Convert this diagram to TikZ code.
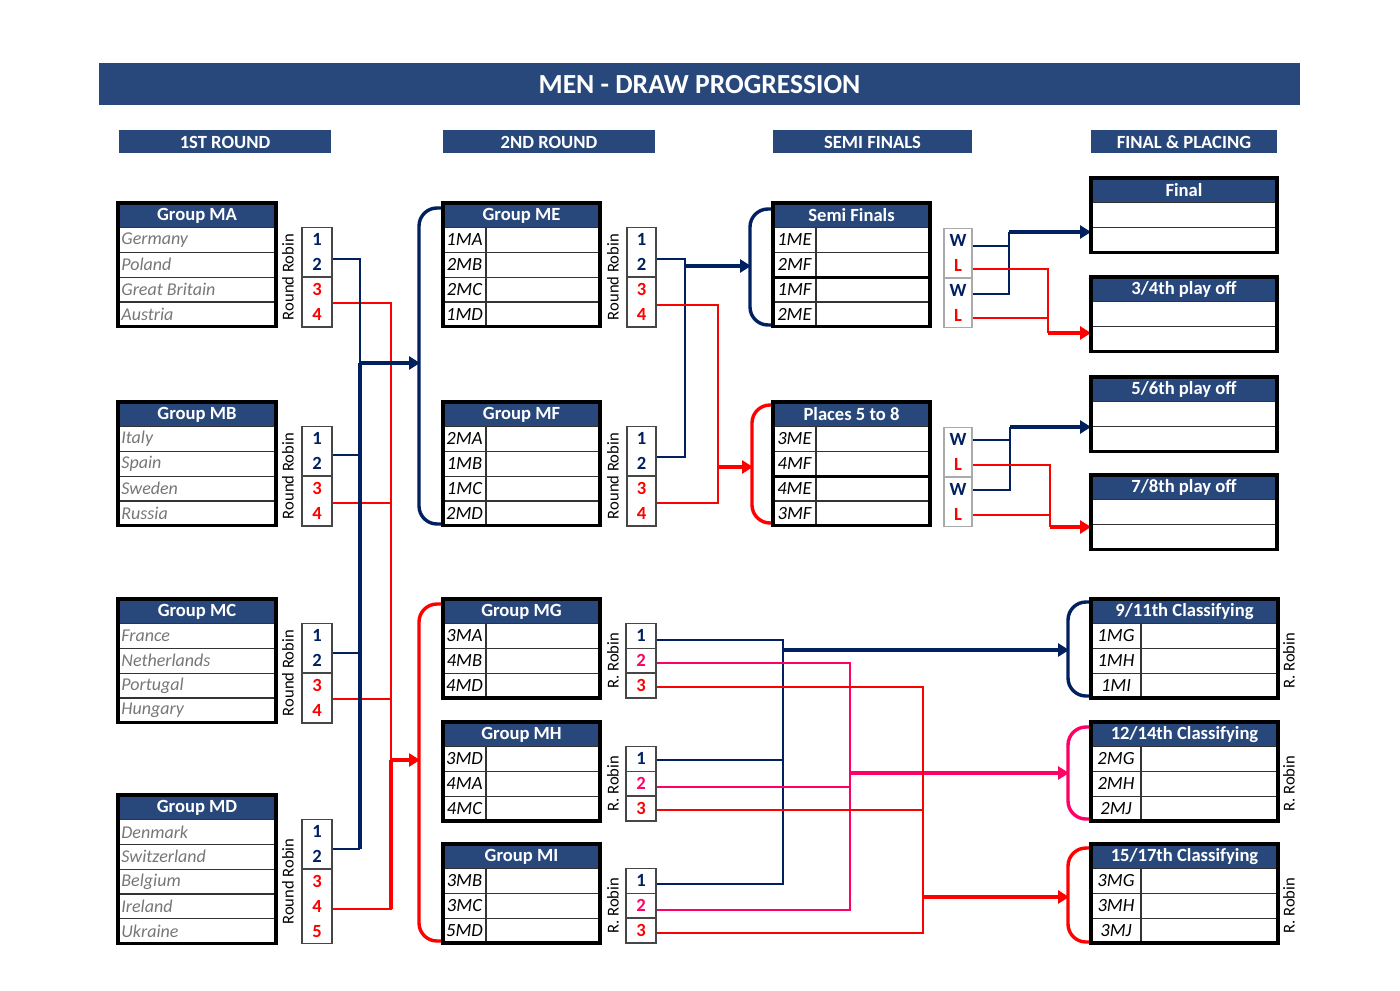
\documentclass[tikz,border=0pt]{standalone}
\usepackage{fontspec}
\setmainfont{Carlito}
\usetikzlibrary{arrows.meta}
\definecolor{hdrblue}{RGB}{40,72,124}
\definecolor{navy}{RGB}{0,32,96}
\definecolor{myred}{RGB}{255,0,0}
\definecolor{mypink}{RGB}{255,0,102}
\definecolor{cgray}{RGB}{118,118,118}
\definecolor{rrgray}{RGB}{70,70,70}
\definecolor{wlgray}{RGB}{170,170,170}
\tikzset{
  hdrtxt/.style={text=white,font=\bfseries\fontsize{9.3}{11}\selectfont,inner sep=0pt},
  titletxt/.style={text=white,font=\bfseries\fontsize{13.8}{16}\selectfont,inner sep=0pt},
  cntry/.style={text=cgray,font=\itshape\fontsize{9}{11}\selectfont,anchor=west,inner sep=0pt},
  lbl/.style={text=black,font=\itshape\fontsize{9.3}{11}\selectfont,inner sep=0pt},
  rrtxt/.style={font=\fontsize{8.3}{10}\selectfont,rotate=90,inner sep=0pt},
  numb/.style={font=\bfseries\fontsize{9.3}{11}\selectfont,inner sep=0pt},
  outerbox/.style={draw=black,line width=1.6pt},
  rowline/.style={draw=black!80,line width=0.6pt},
  rrline/.style={draw=rrgray,line width=0.8pt},
  wlline/.style={draw=wlgray,line width=0.7pt},
  thinc/.style={line width=1.4pt},
  midc/.style={line width=1.8pt},
  thickc/.style={line width=2.4pt},
  brk/.style={line width=1.7pt,rounded corners=9pt},
  tip/.style={-{Triangle[length=5.5pt,width=6.5pt]}},
}
% group table, first round (country names)
\newcommand\grpone[4]{%
  \fill[hdrblue] (118,#2) rectangle (276,{#2+24.5});
  \node[hdrtxt] (#1h) at (197,{#2+12.5}) {#3};
  \foreach \ent [count=\i] in {#4} {
    \draw[rowline] (118,{#2+24.5+(\i-1)*24.8}) rectangle (276,{#2+24.5+\i*24.8});
    \node[cntry] (#1r\i) at (121,{#2+24.5+(\i-0.5)*24.8}) {\ent};
    \xdef\nrows{\i}
  }
  \draw[outerbox] (118,#2) rectangle (276,{#2+24.5+\nrows*24.8});
}
% group table with label column
\newcommand\grplab[7]{%
  \fill[hdrblue] (#2,#3) rectangle ({#2+#4},{#3+24.5});
  \node[hdrtxt] (#1h) at ({#2+#4/2},{#3+12.5}) {#6};
  \foreach \ent [count=\i] in {#7} {
    \draw[rowline] (#2,{#3+24.5+(\i-1)*24.8}) rectangle ({#2+#4},{#3+24.5+\i*24.8});
    \node[lbl] (#1r\i) at ({#2+#5/2},{#3+24.5+(\i-0.5)*24.8}) {\ent};
    \xdef\nrows{\i}
  }
  \draw[rowline] ({#2+#5},{#3+24.5}) -- ({#2+#5},{#3+24.5+\nrows*24.8});
  \draw[outerbox] (#2,#3) rectangle ({#2+#4},{#3+24.5+\nrows*24.8});
}
% empty two-row table
\newcommand\grpempty[3]{%
  \fill[hdrblue] (1091,#2) rectangle (1277,{#2+24.5});
  \node[hdrtxt] (#1h) at (1184,{#2+12.5}) {#3};
  \draw[rowline] (1091,{#2+24.5}) rectangle (1277,{#2+24.5+24.8});
  \draw[rowline] (1091,{#2+24.5+24.8}) rectangle (1277,{#2+24.5+49.6});
  \draw[outerbox] (1091,#2) rectangle (1277,{#2+24.5+49.6});
}
% numbered box: id, left, top, width, entries, separators, line style
\newcommand\rrb[7]{%
  \foreach \s in {#6} {\draw[#7] (#2,{#3+\s*24.8}) -- ({#2+#4},{#3+\s*24.8});}
  \foreach \nm/\cl [count=\i] in {#5} {
    \node[numb,text=\cl] (#1n\i) at ({#2+#4/2},{#3+(\i-0.5)*24.8}) {\nm};
    \xdef\nrows{\i}
  }
  \draw[#7] (#2,#3) rectangle ({#2+#4},{#3+\nrows*24.8});
}
\begin{document}
\begin{tikzpicture}[x=0.5pt,y=-0.5pt]
\useasboundingbox (0,0) rectangle (1400,990);

% ---------- title and column headers ----------
\fill[hdrblue] (99,63) rectangle (1300,105);
\node[titletxt] (title) at (699.5,84.5) {MEN - DRAW PROGRESSION};
\fill[hdrblue] (119,130) rectangle (331,153);
\node[hdrtxt] (c1) at (225,142) {1ST ROUND};
\fill[hdrblue] (443,130) rectangle (655,153);
\node[hdrtxt] (c2) at (549,142) {2ND ROUND};
\fill[hdrblue] (773,130) rectangle (972,153);
\node[hdrtxt] (c3) at (872.5,142) {SEMI FINALS};
\fill[hdrblue] (1091,130) rectangle (1277,153);
\node[hdrtxt] (c4) at (1184,142) {FINAL \& PLACING};

% ---------- connector coordinates ----------
\coordinate (maB) at (332,259); \coordinate (maR) at (332,303);
\coordinate (mbB) at (332,455); \coordinate (mbR) at (332,503);
\coordinate (mcB) at (332,653); \coordinate (mcR) at (332,699);
\coordinate (mdB) at (332,849); \coordinate (mdR) at (332,909);
\coordinate (tB1) at (360,259); \coordinate (tB2) at (360,363); \coordinate (tB3) at (360,849);
\coordinate (tR1) at (391,303); \coordinate (tR2) at (391,760); \coordinate (tR3) at (391,909);
\coordinate (brA) at (420,363); \coordinate (brB) at (420,760);

\coordinate (me2) at (656,259); \coordinate (me4) at (656,305);
\coordinate (mf2) at (656,457); \coordinate (mf4) at (656,503);
\coordinate (jE1) at (685,259); \coordinate (jE2) at (685,457);
\coordinate (jE3) at (685,266); \coordinate (sfBr) at (751,266);
\coordinate (jF1) at (718,305); \coordinate (jF2) at (718,503);
\coordinate (jF3) at (718,467); \coordinate (plBr) at (753,467);

\coordinate (sw1) at (972,246); \coordinate (sl1) at (972,269);
\coordinate (sw2) at (972,294); \coordinate (sl2) at (972,318);
\coordinate (jS1) at (1009,246); \coordinate (jS2) at (1009,294); \coordinate (jS3) at (1009,232);
\coordinate (fin) at (1091,232);
\coordinate (jS4) at (1048,269); \coordinate (jS5) at (1048,318); \coordinate (jS6) at (1048,333);
\coordinate (p34) at (1091,333);

\coordinate (pw1) at (972,440); \coordinate (pl1) at (972,465);
\coordinate (pw2) at (972,490); \coordinate (pl2) at (972,515);
\coordinate (jP1) at (1010,440); \coordinate (jP2) at (1010,490); \coordinate (jP3) at (1010,427);
\coordinate (p56) at (1091,427);
\coordinate (jP4) at (1050,465); \coordinate (jP5) at (1050,515); \coordinate (jP6) at (1050,527);
\coordinate (p78) at (1091,527);

\coordinate (mg1) at (656,640); \coordinate (mg2) at (656,663); \coordinate (mg3) at (656,687);
\coordinate (mh1) at (656,760); \coordinate (mh2) at (656,787); \coordinate (mh3) at (656,810);
\coordinate (mi1) at (656,884); \coordinate (mi2) at (656,910); \coordinate (mi3) at (656,933);
\coordinate (jG1) at (783,640); \coordinate (jG2) at (783,884); \coordinate (jG3) at (783,650);
\coordinate (jH1) at (850,663); \coordinate (jH2) at (850,910); \coordinate (jH3) at (850,773);
\coordinate (jI1) at (923,687); \coordinate (jI2) at (923,933); \coordinate (jI3) at (923,897);
\coordinate (c911) at (1069,650); \coordinate (c1214) at (1069,773); \coordinate (c1517) at (1069,897);

% ---------- connectors: first round ----------
\draw[myred,thinc] (maR) -- (tR1) -- (tR3) -- (mdR);
\draw[myred,thinc] (mbR) -- (mbR -| tR1);
\draw[myred,thinc] (mcR) -- (mcR -| tR1);
\draw[myred,line width=2pt] (tR2) -- (tR3);
\draw[myred,thickc,tip] (tR2) -- (brB);
\draw[navy,thinc] (maB) -- (tB1) -- (tB2);
\draw[navy,thickc] (tB2) -- (tB3);
\draw[navy,thinc] (mbB) -- (mbB -| tB1);
\draw[navy,thinc] (mcB) -- (mcB -| tB1);
\draw[navy,thinc] (mdB) -- (tB3);
\draw[navy,thickc,tip] (tB2) -- (brA);

% brackets second round
\draw[navy,brk] (442,208) -- (419,208) -- (419,524) -- (442,524);
\draw[myred,brk] (442,604) -- (419,604) -- (419,941) -- (442,941);

% ---------- connectors: second round ----------
\draw[navy,thinc] (me2) -- (jE1) -- (jE2) -- (mf2);
\draw[navy,thickc,tip] (jE3) -- (sfBr);
\draw[myred,thinc] (me4) -- (jF1) -- (jF2) -- (mf4);
\draw[myred,thickc,tip] (jF3) -- (plBr);

% brackets semis
\draw[navy,brk] (773,209) -- (750,209) -- (750,325) -- (773,325);
\draw[myred,brk] (773,405) -- (752,405) -- (752,523) -- (773,523);

% ---------- connectors: semis ----------
\draw[navy,thinc] (sw1) -- (jS1);
\draw[navy,thinc] (sw2) -- (jS2) -- (jS3);
\draw[navy,midc,tip] (jS3) -- (fin);
\draw[myred,thinc] (sl1) -- (jS4) -- (jS6);
\draw[myred,thinc] (sl2) -- (jS5);
\draw[myred,thickc,tip] (jS6) -- (p34);

\draw[navy,thinc] (pw1) -- (jP1);
\draw[navy,thinc] (pw2) -- (jP2) -- (jP3);
\draw[navy,midc,tip] (jP3) -- (p56);
\draw[myred,thinc] (pl1) -- (jP4) -- (jP6);
\draw[myred,thinc] (pl2) -- (jP5);
\draw[myred,thickc,tip] (jP6) -- (p78);

% ---------- connectors: bottom groups ----------
\draw[navy,thinc] (mg1) -- (jG1) -- (jG2) -- (mi1);
\draw[navy,thinc] (mh1) -- (mh1 -| jG1);
\draw[navy,thickc,tip] (jG3) -- (c911);
\draw[mypink,thinc] (mg2) -- (jH1) -- (jH2) -- (mi2);
\draw[mypink,thinc] (mh2) -- (mh2 -| jH1);
\draw[mypink,thickc,tip] (jH3) -- (c1214);
\draw[myred,thinc] (mg3) -- (jI1) -- (jI2) -- (mi3);
\draw[myred,thinc] (mh3) -- (mh3 -| jI1);
\draw[myred,thickc,tip] (jI3) -- (c1517);

% brackets classifying
\draw[navy,brk] (1091,602) -- (1068,602) -- (1068,696) -- (1091,696);
\draw[mypink,brk] (1091,727) -- (1068,727) -- (1068,819) -- (1091,819);
\draw[myred,brk] (1091,848) -- (1068,848) -- (1068,942) -- (1091,942);

% ---------- first round groups ----------
\grpone{ma}{203}{Group MA}{Germany,Poland,Great Britain,Austria}
\grpone{mb}{402}{Group MB}{Italy,Spain,Sweden,Russia}
\grpone{mc}{599}{Group MC}{France,Netherlands,Portugal,Hungary}
\grpone{md}{795}{Group MD}{Denmark,Switzerland,Belgium,Ireland,Ukraine}
\rrb{rra}{302}{227.5}{30}{1/navy,2/navy,3/myred,4/myred}{2}{rrline}
\rrb{rrb}{302}{426.5}{30}{1/navy,2/navy,3/myred,4/myred}{2}{rrline}
\rrb{rrc}{302}{623.5}{30}{1/navy,2/navy,3/myred,4/myred}{2}{rrline}
\rrb{rrd}{302}{819.5}{30}{1/navy,2/navy,3/myred,4/myred,5/myred}{2}{rrline}
\node[rrtxt] (ta) at (288,277) {Round Robin};
\node[rrtxt] (tb) at (288,476) {Round Robin};
\node[rrtxt] (tc) at (288,673) {Round Robin};
\node[rrtxt] (td) at (288,881.5) {Round Robin};

% ---------- second round groups ----------
\grplab{me}{443}{203}{157}{43}{Group ME}{1MA,2MB,2MC,1MD}
\grplab{mf}{443}{402}{157}{43}{Group MF}{2MA,1MB,1MC,2MD}
\rrb{rre}{627}{227.5}{29}{1/navy,2/navy,3/myred,4/myred}{2}{rrline}
\rrb{rrf}{627}{426.5}{29}{1/navy,2/navy,3/myred,4/myred}{2}{rrline}
\node[rrtxt] (te) at (613,277) {Round Robin};
\node[rrtxt] (tf) at (613,476) {Round Robin};

\grplab{mg}{443}{599}{157}{43}{Group MG}{3MA,4MB,4MD}
\grplab{mh}{443}{722}{157}{43}{Group MH}{3MD,4MA,4MC}
\grplab{mi}{443}{844}{157}{43}{Group MI}{3MB,3MC,5MD}
\rrb{rrg}{626}{623.5}{30}{1/navy,2/mypink,3/myred}{1,2}{rrline}
\rrb{rrh}{626}{746.5}{30}{1/navy,2/mypink,3/myred}{1,2}{rrline}
\rrb{rri}{626}{868.5}{30}{1/navy,2/mypink,3/myred}{1,2}{rrline}
\node[rrtxt] (tg) at (613,660.7) {R. Robin};
\node[rrtxt] (th) at (613,783.7) {R. Robin};
\node[rrtxt] (ti) at (613,905.7) {R. Robin};

% ---------- semi finals ----------
\grplab{sf}{773}{203}{157}{43}{Semi Finals}{1ME,2MF,1MF,2ME}
\draw[black,line width=1.4pt] (773,{227.5+49.6}) -- (930,{227.5+49.6});
\grplab{pl}{773}{402}{157}{43}{Places 5 to 8}{3ME,4MF,4ME,3MF}
\draw[black,line width=1.4pt] (773,{426.5+49.6}) -- (930,{426.5+49.6});
\rrb{wla}{944}{228.5}{28}{W/navy,L/myred,W/navy,L/myred}{2}{wlline}
\rrb{wlb}{944}{427.5}{28}{W/navy,L/myred,W/navy,L/myred}{2}{wlline}

% ---------- finals and placing ----------
\grpempty{fa}{178}{Final}
\grpempty{fb}{277}{3/4th play off}
\grpempty{fc}{377}{5/6th play off}
\grpempty{fd}{475}{7/8th play off}

\grplab{ka}{1091}{599}{187}{50}{9/11th Classifying}{1MG,1MH,1MI}
\grplab{kb}{1091}{722}{187}{50}{12/14th Classifying}{2MG,2MH,2MJ}
\grplab{kc}{1091}{844}{187}{50}{15/17th Classifying}{3MG,3MH,3MJ}
\node[rrtxt] (tka) at (1289,660.7) {R. Robin};
\node[rrtxt] (tkb) at (1289,783.7) {R. Robin};
\node[rrtxt] (tkc) at (1289,905.7) {R. Robin};
\end{tikzpicture}
\end{document}
